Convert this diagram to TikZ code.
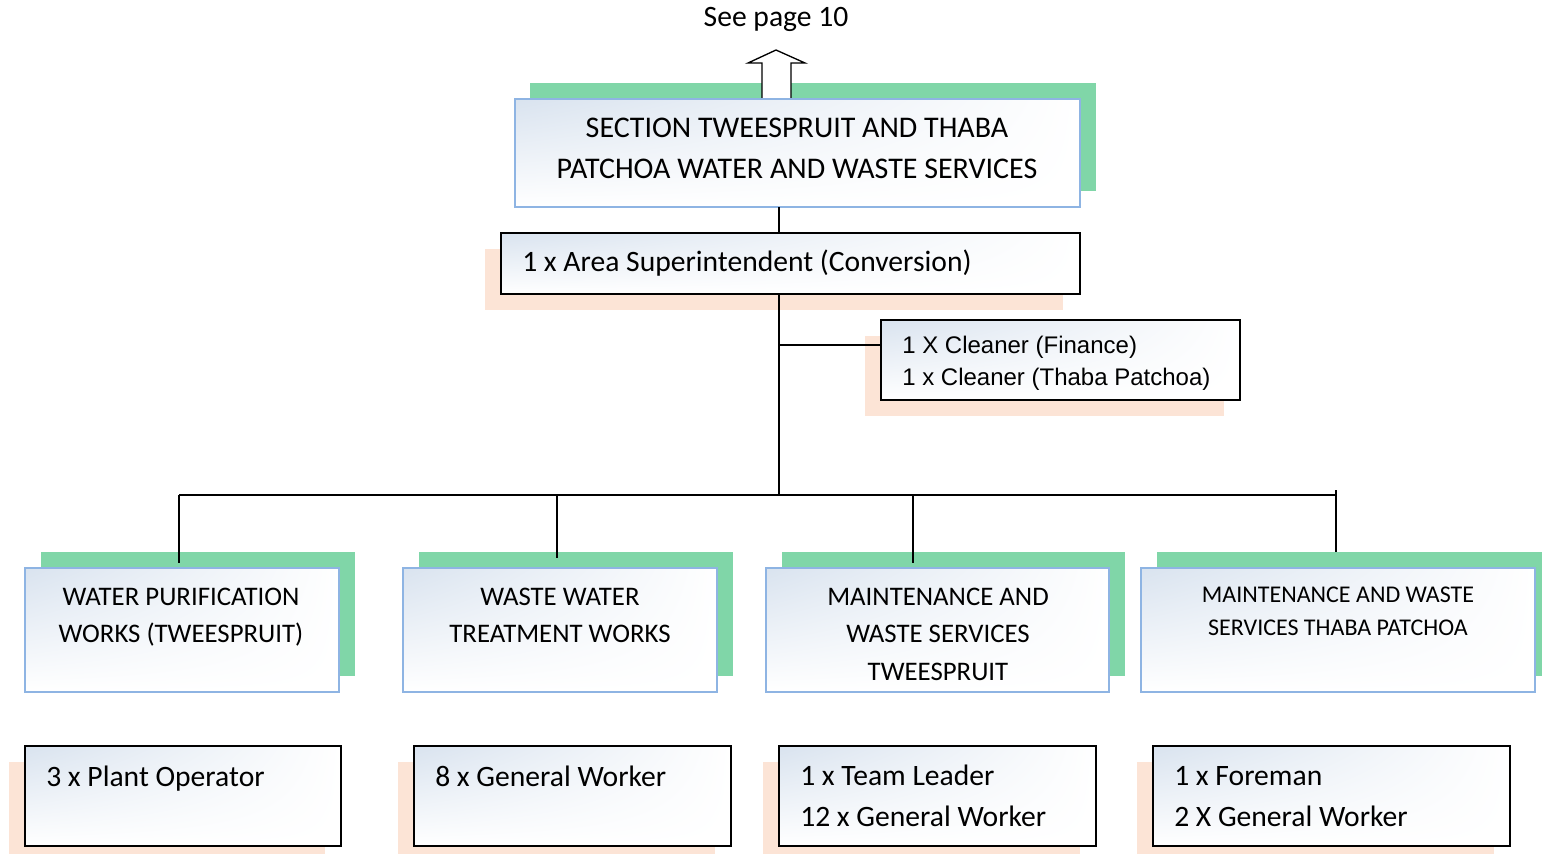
\documentclass[tikz,border=0pt]{standalone}
\usepackage{fontspec}
\setmainfont{Carlito}
\newfontfamily\arialfont{Liberation Sans}
\usetikzlibrary{fit,shadings}
\definecolor{shgreen}{HTML}{80D6A8}
\definecolor{shpeach}{HTML}{FCE4D6}
\definecolor{bordblue}{HTML}{8EB4E3}
\definecolor{gradtop}{HTML}{D9E3EF}
\tikzset{
  gradbox/.style={inner sep=0pt, shade, upper left=gradtop, upper right=white, lower left=white, lower right=white},
  bluebox/.style={gradbox, draw=bordblue, line width=1.5pt},
  blackbox/.style={gradbox, draw=black, line width=1.6pt},
  conn/.style={draw=black, line width=1.2pt},
  txt/.style={inner sep=0pt, anchor=base},
  ltxt/.style={inner sep=0pt, anchor=base west},
  bigf/.style={font=\fontsize{22.2}{26}\selectfont},
  midf/.style={font=\fontsize{20.1}{24}\selectfont},
}
\begin{document}
\begin{tikzpicture}[x=0.75pt,y=-0.75pt]
\useasboundingbox (0,0) rectangle (1542,854);
% shadows
\fill[shgreen] (530,83) rectangle (1096,191);
\fill[shpeach] (485,249) rectangle (1063,310);
\fill[shpeach] (865,336) rectangle (1224,416);
\fill[shgreen] (41,552) rectangle (355,676);
\fill[shgreen] (419,552) rectangle (733,676);
\fill[shgreen] (782,552) rectangle (1125,676);
\fill[shgreen] (1157,552) rectangle (1542,676);
\fill[shpeach] (9,762) rectangle (325,854);
\fill[shpeach] (398,762) rectangle (715,854);
\fill[shpeach] (763,762) rectangle (1080,854);
\fill[shpeach] (1137,762) rectangle (1494,854);

% see page
\node[txt, bigf] (see) at (776,26) {See page 10};
\draw[fill=white, line width=1pt] (762,99) -- (762,63) -- (748,63) -- (776,50) -- (805,63) -- (791,63) -- (791,99) -- cycle;

% top box
\node[bluebox, fit={(515,99)(1080,207)}] (top) {};
\node[txt, font=\fontsize{22.5}{26}\selectfont] (topa) at (797,137) {SECTION TWEESPRUIT AND THABA};
\node[txt, font=\fontsize{22.5}{26}\selectfont] (topb) at (797,178) {PATCHOA WATER AND WASTE SERVICES};

% superintendent
\node[blackbox, fit={(501,233)(1080,294)}] (sup) {};
\node[ltxt, bigf] (supt) at (522,271) {1 x Area Superintendent (Conversion)};

% cleaners
\node[blackbox, fit={(881,320)(1240,400)}] (cln) {};
\node[ltxt, font=\arialfont\fontsize{18}{22}\selectfont] (clna) at (902,353) {1 X Cleaner (Finance)};
\node[ltxt, font=\arialfont\fontsize{18}{22}\selectfont] (clnb) at (902,385) {1 x Cleaner (Thaba Patchoa)};

% row 1
\node[bluebox, fit={(25,568)(339,692)}] (w1) {};
\node[bluebox, fit={(403,568)(717,692)}] (w2) {};
\node[bluebox, fit={(766,568)(1109,692)}] (w3) {};
\node[bluebox, fit={(1141,568)(1535,692)}] (w4) {};
\node[txt, midf] at (181,605) {WATER PURIFICATION};
\node[txt, midf] at (181,642) {WORKS (TWEESPRUIT)};
\node[txt, midf] at (560,605) {WASTE WATER};
\node[txt, midf] at (560,642) {TREATMENT WORKS};
\node[txt, midf] at (938,605) {MAINTENANCE AND};
\node[txt, midf] at (938,642) {WASTE SERVICES};
\node[txt, midf] at (938,680) {TWEESPRUIT};
\node[txt, font=\fontsize{18}{21}\selectfont] at (1338,602) {MAINTENANCE AND WASTE};
\node[txt, font=\fontsize{18}{21}\selectfont] at (1338,635) {SERVICES THABA PATCHOA};

% row 2
\node[blackbox, fit={(25,746)(341,846)}] (s1) {};
\node[blackbox, fit={(414,746)(731,846)}] (s2) {};
\node[blackbox, fit={(779,746)(1096,846)}] (s3) {};
\node[blackbox, fit={(1153,746)(1510,846)}] (s4) {};
\node[ltxt, bigf] at (46,786) {3 x Plant Operator};
\node[ltxt, bigf] at (435,786) {8 x General Worker};
\node[ltxt, bigf] at (800,785) {1 x Team Leader};
\node[ltxt, bigf] at (800,826) {12 x General Worker};
\node[ltxt, bigf] at (1174,785) {1 x Foreman};
\node[ltxt, bigf] at (1174,826) {2 X General Worker};

% connectors
\coordinate (tb) at (779,207);
\coordinate (sb) at (779,294);
\coordinate (j1) at (779,345);
\coordinate (hb) at (779,495);
\coordinate (h1) at (179,495);
\coordinate (h2) at (557,495);
\coordinate (h3) at (913,495);
\coordinate (h4) at (1336,495);
\draw[conn] (tb) -- (sup.north -| tb);
\draw[conn] (sb) -- (hb);
\draw[conn] (j1) -- (cln.west |- j1);
\draw[conn] (h1) -- (1336,495);
\draw[conn] (h1) -- (179,563);
\draw[conn] (h2) -- (557,558);
\draw[conn] (h3) -- (913,563);
\draw[conn] (1336,490) -- (1336,552);
\end{tikzpicture}
\end{document}
